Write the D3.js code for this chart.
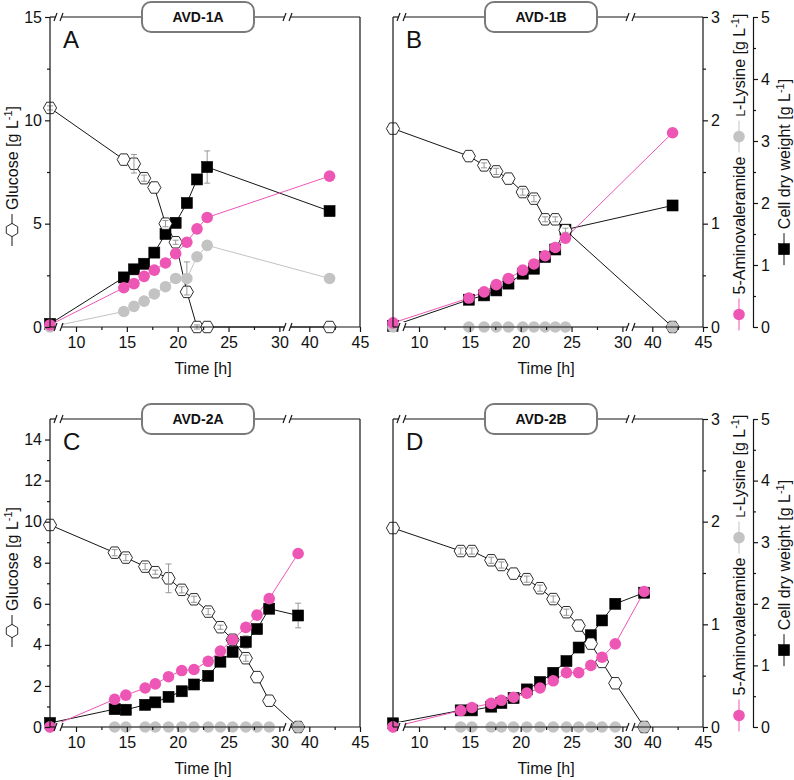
<!DOCTYPE html>
<html lang="en">
<head>
<meta charset="UTF-8">
<title>AVD fermentations</title>
<script src="https://d3js.org/d3.v7.min.js"></script>
<style>
  body { margin: 0; background: #fff; }
  svg text { font-family: Arial, "Liberation Sans", sans-serif; fill: #111; }
</style>
</head>
<body>
<svg id="chart" width="794" height="780"></svg>
<script>
// ---- data (time in h, concentrations in g/L) ----
const timeA = [0, 14.7, 15.7, 16.7, 17.7, 18.8, 19.8, 20.9, 21.9, 22.9, 42];
const glucoseA = [10.6, 8.1, 7.9, 7.2, 6.75, 5.0, 4.1, 1.7, 0, 0, 0];
const glucoseErrA = [0.1, 0, 0.45, 0.15, 0, 0.15, 0.1, 0, 0.1, 0, 0];
const cdwA = [0.05, 0.8, 0.93, 1.02, 1.2, 1.5, 1.68, 2.0, 2.38, 2.58, 1.87];
const cdwErrA = [0, 0, 0, 0, 0, 0, 0, 0.05, 0.05, 0.26, 0];
const avaA = [0.02, 0.38, 0.42, 0.49, 0.55, 0.62, 0.71, 0.82, 0.95, 1.06, 1.46];
const lysA = [0, 0.15, 0.2, 0.25, 0.32, 0.39, 0.47, 0.47, 0.68, 0.79, 0.47];
const lysErrA = [0, 0, 0, 0, 0, 0, 0, 0.16, 0, 0, 0];

const timeB = [0, 14.9, 16.4, 17.6, 18.8, 20.2, 21.3, 22.4, 23.4, 24.4, 42];
const glucoseB = [9.6, 8.27, 7.82, 7.53, 7.18, 6.53, 6.21, 5.21, 5.21, 4.68, 0];
const glucoseErrB = [0, 0, 0.12, 0.15, 0, 0.15, 0.15, 0.12, 0.12, 0.1, 0];
const cdwB = [0.02, 0.44, 0.51, 0.59, 0.7, 0.86, 0.94, 1.13, 1.25, 1.57, 1.96];
const cdwErrB = [0, 0, 0, 0, 0, 0, 0, 0, 0, 0, 0];
const avaB = [0.04, 0.28, 0.34, 0.41, 0.47, 0.55, 0.61, 0.69, 0.77, 0.86, 1.88];
const lysB = [0, 0, 0, 0, 0, 0, 0, 0, 0, 0, 0];
const lysErrB = [0, 0, 0, 0, 0, 0, 0, 0, 0, 0, 0];

const timeC = [0, 13.8, 14.9, 16.8, 17.8, 19.1, 20.4, 21.6, 23.0, 24.2, 25.4, 26.7, 27.8, 29.0, 38.9];
const glucoseC = [9.84, 8.49, 8.25, 7.81, 7.54, 7.24, 6.68, 6.22, 5.62, 4.86, 4.25, 3.35, 2.43, 1.28, 0];
const glucoseErrC = [0, 0.15, 0.15, 0.15, 0.1, 0.7, 0.15, 0.15, 0.15, 0.1, 0, 0.15, 0, 0, 0];
const cdwC = [0.065, 0.29, 0.28, 0.36, 0.4, 0.49, 0.58, 0.69, 0.83, 1.06, 1.22, 1.38, 1.59, 1.92, 1.81];
const cdwErrC = [0, 0, 0, 0, 0, 0, 0, 0, 0, 0, 0, 0.1, 0, 0.08, 0.2];
const avaC = [0, 0.27, 0.31, 0.38, 0.42, 0.49, 0.55, 0.56, 0.64, 0.74, 0.85, 0.97, 1.09, 1.25, 1.69];
const lysC = [0, 0, 0, 0, 0, 0, 0, 0, 0, 0, 0, 0, 0, 0, 0];
const lysErrC = [0, 0, 0, 0, 0, 0, 0, 0, 0, 0, 0, 0, 0, 0, 0];

const timeD = [0, 14.1, 15.2, 17.1, 18.1, 19.3, 20.6, 21.9, 23.2, 24.5, 25.7, 26.9, 28.0, 29.3, 39.2];
const glucoseD = [9.69, 8.57, 8.57, 8.12, 7.89, 7.47, 7.2, 6.76, 6.23, 5.59, 4.94, 4.06, 3.17, 2.13, 0];
const glucoseErrD = [0, 0.15, 0.15, 0.15, 0.15, 0, 0.15, 0.15, 0.15, 0.15, 0, 0, 0, 0, 0];
const cdwD = [0.06, 0.27, 0.27, 0.33, 0.39, 0.47, 0.61, 0.73, 0.88, 1.07, 1.29, 1.49, 1.73, 2.0, 2.18];
const cdwErrD = [0, 0, 0, 0, 0, 0, 0, 0, 0, 0, 0, 0, 0.08, 0, 0];
const avaD = [0, 0.16, 0.19, 0.23, 0.26, 0.29, 0.33, 0.38, 0.45, 0.53, 0.53, 0.6, 0.68, 0.81, 1.32];
const lysD = [0, 0, 0, 0, 0, 0, 0, 0, 0, 0, 0, 0, 0, 0, 0];
const lysErrD = [0, 0, 0, 0, 0, 0, 0, 0, 0, 0, 0, 0, 0, 0, 0];

// axis ticks
const timeMajor1 = [10, 15, 20, 25, 30];
const timeMinor1 = [12.5, 17.5, 22.5, 27.5];
const timeMajor2 = [40, 45];
const timeMinor2 = [42.5];
const glucoseTicksTop = [0, 5, 10, 15];
const glucoseMinorTop = [2.5, 7.5, 12.5];
const glucoseTicksBottom = [0, 2, 4, 6, 8, 10, 12, 14];
const glucoseMinorBottom = [1, 3, 5, 7, 9, 11, 13];
const avaTicks = [0, 1, 2, 3];
const avaMinor = [0.5, 1.5, 2.5];
const cdwTicks = [0, 1, 2, 3, 4, 5];
const cdwMinor = [0.5, 1.5, 2.5, 3.5, 4.5];

const PINK = "#ee56b6", GRAY = "#c3c3c3", BLACK = "#151515", ERR = "#8c8c8c";
const W = 310;
const fmt = d3.format("d");

const panels = [
  { letter: "A", title: "AVD-1A", x0: 50, y0: 17, h: 310, side: "left",
    t: timeA, glc: glucoseA, glcErr: glucoseErrA, cdw: cdwA, cdwErr: cdwErrA, ava: avaA, lys: lysA, lysErr: lysErrA,
    gTicks: glucoseTicksTop, gMinor: glucoseMinorTop },
  { letter: "B", title: "AVD-1B", x0: 393, y0: 17, h: 310, side: "right",
    t: timeB, glc: glucoseB, glcErr: glucoseErrB, cdw: cdwB, cdwErr: cdwErrB, ava: avaB, lys: lysB, lysErr: lysErrB },
  { letter: "C", title: "AVD-2A", x0: 50, y0: 419, h: 308, side: "left",
    t: timeC, glc: glucoseC, glcErr: glucoseErrC, cdw: cdwC, cdwErr: cdwErrC, ava: avaC, lys: lysC, lysErr: lysErrC,
    gTicks: glucoseTicksBottom, gMinor: glucoseMinorBottom },
  { letter: "D", title: "AVD-2B", x0: 393, y0: 419, h: 308, side: "right",
    t: timeD, glc: glucoseD, glcErr: glucoseErrD, cdw: cdwD, cdwErr: cdwErrD, ava: avaD, lys: lysD, lysErr: lysErrD }
];

const svg = d3.select("#chart");

// broken time axis: t=0 squeezed at the left edge, 8.2-30.7 h, then 38-45 h
function makeTimeScale(x0) {
  const segs = [
    d3.scaleLinear().domain([0, 0.8]).range([x0, x0 + 8]),
    d3.scaleLinear().domain([8.2, 30.7]).range([x0 + 7.7, x0 + 236.5]),
    d3.scaleLinear().domain([38, 45]).range([x0 + 239, x0 + W])
  ];
  const f = t => t < 4 ? segs[0](t) : (t < 34 ? segs[1](t) : segs[2](t));
  f.segs = segs;
  return f;
}

function hexPath(r) {
  const pts = d3.range(6).map(i => [r * Math.cos(i * Math.PI / 3), r * Math.sin(i * Math.PI / 3)]);
  return "M" + pts.map(p => p.join(",")).join("L") + "Z";
}

function drawMarker(g, type, x, y) {
  if (type === "hex") {
    g.append("path").attr("d", hexPath(6.6)).attr("transform", `translate(${x},${y})`)
      .attr("fill", "#fff").attr("stroke", BLACK).attr("stroke-width", 0.9);
  } else if (type === "square") {
    g.append("rect").attr("x", x - 5.5).attr("y", y - 5.5).attr("width", 11).attr("height", 11)
      .attr("fill", "#000").attr("stroke", "#000").attr("stroke-width", 0.6);
  } else {
    g.append("circle").attr("cx", x).attr("cy", y).attr("r", 5.8)
      .attr("fill", type === "pink" ? PINK : GRAY);
  }
}

function errorBars(g, xs, ys, t, v, err) {
  t.forEach((ti, i) => {
    if (!err[i]) return;
    const x = xs(ti), y1 = ys(v[i] - err[i]), y2 = ys(v[i] + err[i]);
    g.append("line").attr("x1", x).attr("x2", x).attr("y1", y1).attr("y2", y2);
    g.append("line").attr("x1", x - 3).attr("x2", x + 3).attr("y1", y1).attr("y2", y1);
    g.append("line").attr("x1", x - 3).attr("x2", x + 3).attr("y1", y2).attr("y2", y2);
  });
  g.attr("stroke", ERR).attr("stroke-width", 0.9);
}

function breakMark(g, x, y) {
  g.append("line").attr("x1", x - 4.5).attr("y1", y + 4).attr("x2", x - 1.5).attr("y2", y - 4);
  g.append("line").attr("x1", x + 1.5).attr("y1", y + 4).attr("x2", x + 4.5).attr("y2", y - 4);
}

function styleAxis(a) {
  a.attr("font-size", 16).attr("font-family", "Arial, 'Liberation Sans', sans-serif");
  a.selectAll("line").attr("stroke", BLACK).attr("stroke-width", 1.2);
  a.selectAll("path").attr("stroke", BLACK).attr("stroke-width", 1.2);
  a.selectAll("text").attr("fill", "#111");
}

// rotated axis title with inline legend symbols
function sideLabel(cx, cy, items) {
  const g = svg.append("g").attr("transform", `translate(${cx},${cy}) rotate(-90)`);
  const inner = g.append("g");
  let pos = 0;
  items.forEach((it, i) => {
    if (i > 0) pos += 4;
    if (it.sym) {
      inner.append("line").attr("x1", pos).attr("x2", pos + 32).attr("y1", 0).attr("y2", 0)
        .attr("stroke", it.line).attr("stroke-width", 1);
      drawMarker(inner, it.sym, pos + 16, 0);
      pos += 32;
    } else {
      const t = inner.append("text").attr("x", pos).attr("y", 5.8).attr("font-size", 16);
      let shift = 0;
      it.text.forEach(part => {
        const ts = t.append("tspan").text(part.s);
        if (part.sup) { ts.attr("font-size", 11).attr("dy", -6); shift = 6; }
        else if (part.small) { ts.attr("font-size", 12); }
        else if (shift) { ts.attr("dy", shift); shift = 0; }
      });
      pos += t.node().getComputedTextLength();
    }
  });
  inner.attr("transform", `translate(${-pos / 2},0)`);
}

const unitParts = [{ s: "-1", sup: true }, { s: "]" }];

panels.forEach(p => {
  const g = svg.append("g");
  const x = makeTimeScale(p.x0);
  const yb = p.y0 + p.h, xr = p.x0 + W;
  const yG = d3.scaleLinear().domain([0, 15]).range([yb, p.y0]);
  const yA = d3.scaleLinear().domain([0, 3]).range([yb, p.y0]);
  const yC = d3.scaleLinear().domain([0, 5]).range([yb, p.y0]);
  const bx1 = p.x0 + 8.5, bx2 = p.x0 + 237.5;

  // series lines
  const series = [
    { v: p.cdw, y: yC, color: BLACK, w: 1 },
    { v: p.glc, y: yG, color: BLACK, w: 1 },
    { v: p.lys, y: yA, color: GRAY, w: 1 },
    { v: p.ava, y: yA, color: PINK, w: 1 }
  ];
  series.forEach(s => {
    const line = d3.line().x((d, i) => x(p.t[i])).y(d => s.y(d));
    g.append("path").attr("d", line(s.v)).attr("fill", "none")
      .attr("stroke", s.color).attr("stroke-width", s.w);
  });

  // markers
  errorBars(g.append("g"), x, yC, p.t, p.cdw, p.cdwErr);
  p.t.forEach((t, i) => drawMarker(g, "square", x(t), yC(p.cdw[i])));
  p.t.forEach((t, i) => drawMarker(g, "hex", x(t), yG(p.glc[i])));
  errorBars(g.append("g"), x, yG, p.t, p.glc, p.glcErr);
  errorBars(g.append("g"), x, yA, p.t, p.lys, p.lysErr);
  p.t.forEach((t, i) => drawMarker(g, "gray", x(t), yA(p.lys[i])));
  p.t.forEach((t, i) => drawMarker(g, "pink", x(t), yA(p.ava[i])));

  // frame
  const fr = g.append("g").attr("stroke", BLACK).attr("stroke-width", 1.2).attr("fill", "none");
  fr.append("line").attr("x1", p.x0).attr("x2", p.x0).attr("y1", p.y0).attr("y2", yb);
  fr.append("line").attr("x1", xr).attr("x2", xr).attr("y1", p.y0).attr("y2", yb);
  [yb, p.y0].forEach(yy => {
    fr.append("line").attr("x1", p.x0).attr("x2", bx1 - 2.5).attr("y1", yy).attr("y2", yy);
    fr.append("line").attr("x1", bx1 + 2.5).attr("x2", bx2 - 2.5).attr("y1", yy).attr("y2", yy);
    fr.append("line").attr("x1", bx2 + 2.5).attr("x2", xr).attr("y1", yy).attr("y2", yy);
    fr.append("rect").attr("x", bx1 - 3).attr("y", yy - 5).attr("width", 6).attr("height", 10)
      .attr("fill", "#fff").attr("stroke", "none");
    fr.append("rect").attr("x", bx2 - 3).attr("y", yy - 5).attr("width", 6).attr("height", 10)
      .attr("fill", "#fff").attr("stroke", "none");
    breakMark(fr, bx1, yy);
    breakMark(fr, bx2, yy);
  });

  // time axis ticks
  const ax = g.append("g").attr("transform", `translate(0,${yb})`);
  [[x.segs[1], timeMajor1, timeMinor1], [x.segs[2], timeMajor2, timeMinor2]].forEach(([s, maj, min]) => {
    ax.append("g").call(d3.axisBottom(s).tickValues(maj).tickFormat(fmt).tickSize(5).tickPadding(5))
      .call(a => a.select(".domain").remove()).call(styleAxis);
    ax.append("g").call(d3.axisBottom(s).tickValues(min).tickSize(3).tickFormat(""))
      .call(a => a.select(".domain").remove()).call(styleAxis);
  });
  g.append("text").attr("x", p.x0 + 153).attr("y", yb + 47).attr("text-anchor", "middle")
    .attr("font-size", 16).text("Time [h]");

  // title box and panel letter
  g.append("rect").attr("x", p.x0 + 92).attr("y", p.y0 - 15).attr("width", 112).attr("height", 30)
    .attr("rx", 9).attr("fill", "#fff").attr("stroke", "#7a7a7a").attr("stroke-width", 2);
  g.append("text").attr("x", p.x0 + 148).attr("y", p.y0 + 5).attr("text-anchor", "middle")
    .attr("font-size", 14).attr("font-weight", "bold").text(p.title);
  g.append("text").attr("x", p.x0 + 13).attr("y", p.y0 + 31).attr("font-size", 24).text(p.letter);

  const cy = p.y0 + p.h / 2;
  if (p.side === "left") {
    g.append("g").attr("transform", `translate(${p.x0},0)`)
      .call(d3.axisLeft(yG).tickValues(p.gTicks).tickFormat(fmt).tickSize(5).tickPadding(3))
      .call(a => a.select(".domain").remove()).call(styleAxis);
    g.append("g").attr("transform", `translate(${p.x0},0)`)
      .call(d3.axisLeft(yG).tickValues(p.gMinor).tickSize(3).tickFormat(""))
      .call(a => a.select(".domain").remove()).call(styleAxis);
    sideLabel(12, cy + 4, [
      { sym: "hex", line: BLACK },
      { text: [{ s: "Glucose [g L" }, ...unitParts] }
    ]);
  } else {
    g.append("g").attr("transform", `translate(${xr},0)`)
      .call(d3.axisRight(yA).tickValues(avaTicks).tickFormat(fmt).tickSize(5).tickPadding(3))
      .call(a => a.select(".domain").remove()).call(styleAxis);
    g.append("g").attr("transform", `translate(${xr},0)`)
      .call(d3.axisRight(yA).tickValues(avaMinor).tickSize(3).tickFormat(""))
      .call(a => a.select(".domain").remove()).call(styleAxis);
    const cx2 = 753;
    g.append("g").attr("transform", `translate(${cx2},0)`)
      .call(d3.axisRight(yC).tickValues(cdwTicks).tickFormat(fmt).tickSize(5).tickSizeOuter(0).tickPadding(3))
      .call(styleAxis);
    g.append("g").attr("transform", `translate(${cx2},0)`)
      .call(d3.axisRight(yC).tickValues(cdwMinor).tickSize(3).tickFormat(""))
      .call(a => a.select(".domain").remove()).call(styleAxis);
    sideLabel(739, cy, [
      { sym: "pink", line: PINK },
      { text: [{ s: "5-Aminovaleramide" }] },
      { sym: "gray", line: GRAY },
      { text: [{ s: "L", small: true }, { s: "-Lysine [g L" }, ...unitParts] }
    ]);
    sideLabel(784, cy, [
      { sym: "square", line: BLACK },
      { text: [{ s: "Cell dry weight [g L" }, ...unitParts] }
    ]);
  }
});
</script>
</body>
</html>
